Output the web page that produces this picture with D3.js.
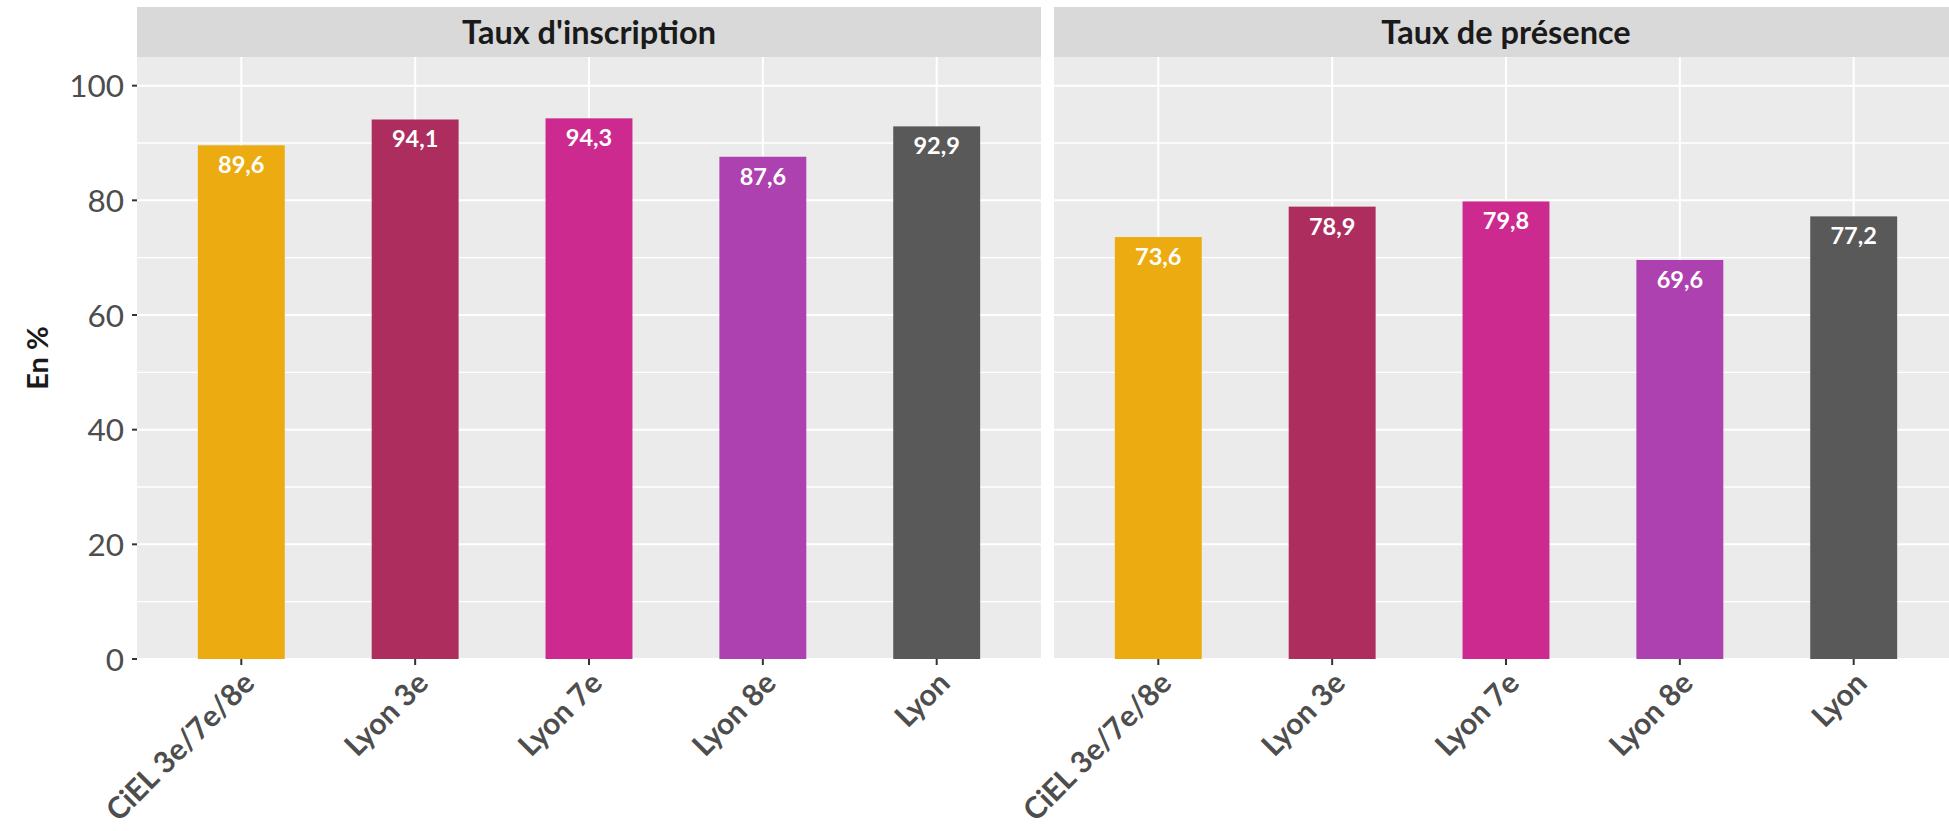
<!DOCTYPE html>
<html>
<head>
<meta charset="utf-8">
<script src="https://cdn.jsdelivr.net/npm/d3@7"></script>
<style>
  html, body { margin: 0; padding: 0; background: #ffffff; }
  svg { display: block; }
  text { font-family: Lato, "Open Sans", sans-serif; }
</style>
</head>
<body>
<svg id="chart" width="1949" height="831"></svg>
<script>
// ---- data ----
const categories = ["CiEL 3e/7e/8e", "Lyon 3e", "Lyon 7e", "Lyon 8e", "Lyon"];
const panels = ["Taux d'inscription", "Taux de présence"];
const inscription = [89.6, 94.1, 94.3, 87.6, 92.9];
const presence = [73.6, 78.9, 79.8, 69.6, 77.2];
const colors = ["#ECAC11", "#AD2E5E", "#CC2A8F", "#AD41AF", "#595959"];
const yTicks = [0, 20, 40, 60, 80, 100];
const yMinor = [10, 30, 50, 70, 90];
const yTitle = "En %";

const seriesByPanel = [inscription, presence];

// ---- layout ----
const svg = d3.select("#chart");
const panelTop = 57, panelBottom = 659;
const stripTop = 7;
const panelW = 904;
const panelLefts = [137, 1054];

const y = d3.scaleLinear().domain([0, 105]).range([panelBottom, panelTop]);
const fmt = v => d3.format(".1f")(v).replace(".", ",");

panels.forEach((title, p) => {
  const left = panelLefts[p];
  const x = d3.scaleBand().domain(categories)
    .range([left, left + panelW]).paddingInner(0.5).paddingOuter(0.35);
  const g = svg.append("g");

  // panel background
  g.append("rect").attr("x", left).attr("y", panelTop)
    .attr("width", panelW).attr("height", panelBottom - panelTop)
    .attr("fill", "#EBEBEB");

  // strip
  g.append("rect").attr("x", left).attr("y", stripTop)
    .attr("width", panelW).attr("height", panelTop - stripTop)
    .attr("fill", "#D9D9D9");
  g.append("text").attr("x", left + panelW / 2).attr("y", 44)
    .attr("text-anchor", "middle").attr("font-size", 32.5).attr("font-weight", 700)
    .attr("fill", "#1A1A1A").text(title);

  // minor gridlines
  g.selectAll(".minor").data(yMinor).enter().append("line")
    .attr("x1", left).attr("x2", left + panelW)
    .attr("y1", d => y(d)).attr("y2", d => y(d))
    .attr("stroke", "#FFFFFF").attr("stroke-width", 1.4);
  // major gridlines
  g.selectAll(".major").data(yTicks).enter().append("line")
    .attr("x1", left).attr("x2", left + panelW)
    .attr("y1", d => y(d)).attr("y2", d => y(d))
    .attr("stroke", "#FFFFFF").attr("stroke-width", 2);
  g.selectAll(".vgrid").data(categories).enter().append("line")
    .attr("x1", d => x(d) + x.bandwidth() / 2).attr("x2", d => x(d) + x.bandwidth() / 2)
    .attr("y1", panelTop).attr("y2", panelBottom)
    .attr("stroke", "#FFFFFF").attr("stroke-width", 2);

  const vals = seriesByPanel[p];
  // bars
  g.selectAll(".bar").data(categories).enter().append("rect")
    .attr("x", d => x(d)).attr("width", x.bandwidth())
    .attr("y", (d, i) => y(vals[i])).attr("height", (d, i) => y(0) - y(vals[i]))
    .attr("fill", (d, i) => colors[i]);

  // value labels
  g.selectAll(".lbl").data(categories).enter().append("text")
    .attr("x", d => x(d) + x.bandwidth() / 2)
    .attr("y", (d, i) => y(vals[i]) + 28)
    .attr("text-anchor", "middle").attr("font-size", 23.5).attr("font-weight", 700)
    .attr("fill", "#FFFFFF").text((d, i) => fmt(vals[i]));

  // x ticks
  g.selectAll(".xt").data(categories).enter().append("line")
    .attr("x1", d => x(d) + x.bandwidth() / 2).attr("x2", d => x(d) + x.bandwidth() / 2)
    .attr("y1", panelBottom).attr("y2", panelBottom + 6)
    .attr("stroke", "#333333").attr("stroke-width", 2);
  g.selectAll(".xl").data(categories).enter().append("text")
    .attr("transform", d => `translate(${x(d) + x.bandwidth() / 2 + 15},${panelBottom + 26}) rotate(-45)`)
    .attr("text-anchor", "end").attr("font-size", 30).attr("font-weight", 700)
    .attr("fill", "#4D4D4D").text(d => d);
});

// y axis (left panel only)
const ya = svg.append("g");
ya.selectAll(".yt").data(yTicks).enter().append("line")
  .attr("x1", panelLefts[0] - 5).attr("x2", panelLefts[0])
  .attr("y1", d => y(d)).attr("y2", d => y(d))
  .attr("stroke", "#333333").attr("stroke-width", 2);
ya.selectAll(".yl").data(yTicks).enter().append("text")
  .attr("x", 124).attr("y", d => y(d) + 11.5)
  .attr("text-anchor", "end").attr("font-size", 31.5)
  .attr("fill", "#4D4D4D").text(d => d);
svg.append("text")
  .attr("transform", `translate(48,${(panelTop + panelBottom) / 2}) rotate(-90)`)
  .attr("text-anchor", "middle").attr("font-size", 29).attr("font-weight", 700)
  .attr("fill", "#1A1A1A").text(yTitle);
</script>
</body>
</html>
